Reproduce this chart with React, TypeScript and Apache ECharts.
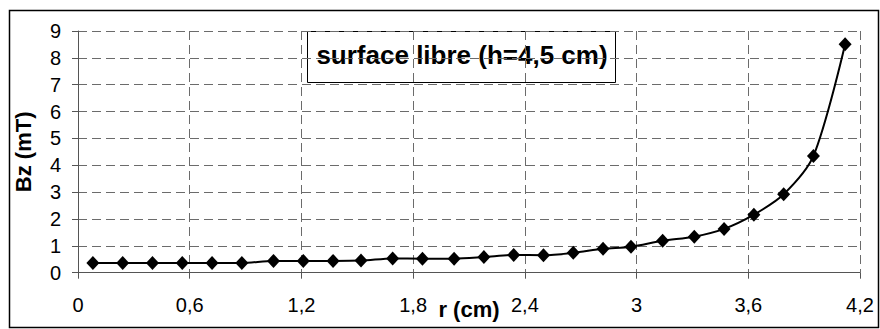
import React, { useEffect, useRef } from "react";
import * as echarts from "echarts";

const rValues = [0.08, 0.24, 0.4, 0.56, 0.72, 0.88, 1.05, 1.21, 1.37, 1.52, 1.69, 1.85, 2.02, 2.18, 2.34, 2.5, 2.66, 2.82, 2.97, 3.14, 3.31, 3.47, 3.63, 3.79, 3.95, 4.12];
const bzValues = [0.36, 0.36, 0.36, 0.36, 0.36, 0.36, 0.44, 0.44, 0.44, 0.45, 0.53, 0.52, 0.52, 0.58, 0.66, 0.65, 0.74, 0.89, 0.97, 1.19, 1.34, 1.63, 2.16, 2.92, 4.35, 8.51];
const titleText = "surface libre (h=4,5 cm)";
const xName = "r (cm)";
const yName = "Bz (mT)";

const fmt = (v: number) => String(Math.round(v * 10) / 10).replace(".", ",");

export default function App() {
  const ref = useRef<HTMLDivElement>(null);
  useEffect(() => {
    if (!ref.current) return;
    const chart = echarts.init(ref.current, null, { renderer: "svg" });
    const font = "Liberation Sans, Arial, sans-serif";
    const gridLine = { show: true, lineStyle: { color: "#6b6b6b", type: [9, 5] as any, width: 1 } };
    chart.setOption({
      animation: false,
      backgroundColor: "#fff",
      textStyle: { fontFamily: font },
      grid: { left: 78, top: 31, right: 20, bottom: 56.3, containLabel: false },
      xAxis: {
        type: "value",
        min: 0,
        max: 4.2,
        interval: 0.6,
        name: xName,
        nameLocation: "middle",
        nameGap: 26,
        nameMoveOverlap: false,
        nameTextStyle: { fontFamily: font, fontSize: 22, fontWeight: "bold", color: "#000" },
        axisLine: { show: true, lineStyle: { color: "#555", width: 1 } },
        axisTick: { show: true, inside: false, length: 6, lineStyle: { color: "#555" } },
        axisLabel: { formatter: fmt, fontFamily: font, fontSize: 20, color: "#000", margin: 22 },
        splitLine: gridLine,
      },
      yAxis: {
        type: "value",
        min: 0,
        max: 9,
        interval: 1,
        name: yName,
        nameLocation: "middle",
        nameRotate: 90,
        nameGap: 44,
        nameMoveOverlap: false,
        nameTextStyle: { fontFamily: font, fontSize: 22, fontWeight: "bold", color: "#000" },
        axisLine: { show: true, lineStyle: { color: "#555", width: 1 } },
        axisTick: { show: true, inside: false, length: 6, lineStyle: { color: "#555" } },
        axisLabel: { fontFamily: font, fontSize: 20, color: "#000", margin: 17 },
        splitLine: gridLine,
      },
      series: [
        {
          type: "line",
          data: rValues.map((r, i) => [r, bzValues[i]]),
          smooth: 0.3,
          symbol: "diamond",
          symbolSize: [13, 14],
          itemStyle: { color: "#000" },
          lineStyle: { color: "#000", width: 2 },
          z: 5,
        },
      ],
      graphic: [
        {
          type: "rect",
          shape: { x: 9.5, y: 10.5, width: 869, height: 317 },
          style: { fill: "none", stroke: "#000", lineWidth: 1.5 },
          silent: true,
          z: 10,
        },
        {
          type: "group",
          z: 20,
          children: [
            {
              type: "rect",
              shape: { x: 307.5, y: 31.5, width: 308, height: 51 },
              style: { fill: "#fff", stroke: "#000", lineWidth: 1 },
            },
            {
              type: "text",
              x: 462,
              y: 55,
              style: {
                text: titleText,
                align: "center",
                verticalAlign: "middle",
                fontFamily: font,
                fontSize: 26,
                fontWeight: "bold",
                fill: "#000",
              },
            },
          ],
        },
      ],
    });
    return () => chart.dispose();
  }, []);
  return <div ref={ref} style={{ position: "fixed", left: 0, top: 0, width: 880, height: 329 }} />;
}
